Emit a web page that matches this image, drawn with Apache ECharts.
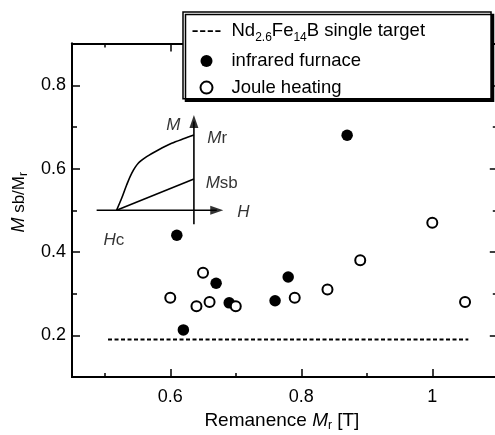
<!DOCTYPE html>
<html>
<head>
<meta charset="utf-8">
<script src="https://cdn.jsdelivr.net/npm/echarts@6/dist/echarts.min.js"></script>
<style>
html,body{margin:0;padding:0;background:#fff;}
#c{width:495px;height:435px;}
</style>
</head>
<body>
<div id="c"></div>
<script>
// ---- data ----
const seriesNames = ['Nd2.6Fe14B single target', 'infrared furnace', 'Joule heating'];
const singleTarget = [[0.505, 0.19], [1.055, 0.19]];
const infrared = [[0.61, 0.44], [0.87, 0.68], [0.67, 0.325], [0.69, 0.278], [0.76, 0.283], [0.78, 0.34], [0.62, 0.213]];
const joule = [[0.60, 0.29], [0.65, 0.35], [0.64, 0.27], [0.66, 0.28], [0.70, 0.27], [0.79, 0.29], [0.84, 0.31], [0.89, 0.38], [1.00, 0.47], [1.05, 0.28]];
const xMajor = [0.6, 0.8, 1.0];
const xMinor = [0.5, 0.7, 0.9];
const yMajor = [0.2, 0.4, 0.6, 0.8];
const yMinor = [0.3, 0.5, 0.7];
// inset schematic (in data units of the main axes)
const insetUpper = [[0.518, 0.5], [0.5258, 0.5288], [0.5334, 0.5607], [0.5411, 0.5888], [0.5511, 0.6128], [0.5640, 0.6286], [0.5817, 0.6447], [0.6021, 0.6608], [0.6224, 0.6728], [0.6361, 0.6807]];
const insetLower = [[0.518, 0.5], [0.6361, 0.575]];
const insetHAxis = [[0.4876, 0.5], [0.671, 0.5]];
const insetMAxis = [[0.6361, 0.4664], [0.6361, 0.7131]];
const insetArrows = [[0.671, 0.5, -90], [0.6361, 0.7131, 0]];
const insetLabels = [
  ['{i|M}', 0.6045, 0.7047],
  ['{i|M}{n|r}', 0.6717, 0.6728],
  ['{i|M}{n|sb}', 0.6785, 0.5648],
  ['{i|H}', 0.7115, 0.4952],
  ['{i|H}{n|c}', 0.514, 0.4287]
];

const FONT = 'Liberation Sans';
const chart = echarts.init(document.getElementById('c'));

function xAx(pos, ticks, len, labels) {
  return {
    type: 'value', position: pos, min: 0.45, max: 1.1,
    axisLine: {show: true, lineStyle: {color: '#000', width: 2}},
    axisTick: {show: true, inside: true, length: len, customValues: ticks, lineStyle: {color: '#000', width: 1.5}},
    axisLabel: labels ? {show: true, customValues: ticks, margin: 11, color: '#000', fontSize: 18, fontFamily: FONT} : {show: false},
    splitLine: {show: false}
  };
}
function yAx(pos, ticks, len, labels) {
  return {
    type: 'value', position: pos, min: 0.1, max: 0.9,
    axisLine: {show: true, lineStyle: {color: '#000', width: 2}},
    axisTick: {show: true, inside: true, length: len, customValues: ticks, lineStyle: {color: '#000', width: 1.5}},
    axisLabel: labels ? {show: true, customValues: ticks, margin: 6, color: '#000', fontSize: 18, fontFamily: FONT} : {show: false},
    splitLine: {show: false}
  };
}

const xAxes = [xAx('bottom', xMajor, 8, true), xAx('bottom', xMinor, 4, false), xAx('top', xMajor, 8, false), xAx('top', xMinor, 4, false)];
xAxes[0].name = '{n|Remanence }{i|M}{s|r}{n| [T]}';
xAxes[0].nameLocation = 'middle';
xAxes[0].nameGap = 32;
xAxes[0].nameTextStyle = {
  padding: [0, 6, 0, 0],
  rich: {
    n: {fontSize: 19, fontFamily: FONT, color: '#000', lineHeight: 22},
    i: {fontSize: 19, fontFamily: FONT, fontStyle: 'italic', color: '#000', lineHeight: 22},
    s: {fontSize: 12, fontFamily: FONT, color: '#000', lineHeight: 13, verticalAlign: 'bottom'}
  }
};
const yAxes = [yAx('left', yMajor, 8, true), yAx('left', yMinor, 5, false), yAx('right', yMajor, 8, false), yAx('right', yMinor, 5, false)];
yAxes[0].name = '{i|M}{n| sb/M}{s|r}';
yAxes[0].nameLocation = 'middle';
yAxes[0].nameRotate = 90;
yAxes[0].nameGap = 41;
yAxes[0].nameTextStyle = {
  padding: [0, 0, 0, 16],
  rich: {
    n: {fontSize: 17, fontFamily: FONT, color: '#000', lineHeight: 22},
    i: {fontSize: 18, fontFamily: FONT, fontStyle: 'italic', color: '#000', lineHeight: 22},
    s: {fontSize: 12, fontFamily: FONT, color: '#000', lineHeight: 13, verticalAlign: 'bottom'}
  }
};

const dashIcon = 'path://M0,0h5v1.8h-5z M7.33,0h5v1.8h-5z M14.67,0h5v1.8h-5z M22,0h5v1.8h-5z';

const option = {
  animation: false,
  backgroundColor: '#fff',
  grid: {left: 72, top: 43.6, width: 425.8, height: 333.4, containLabel: false, outerBoundsMode: 'none'},
  xAxis: xAxes,
  yAxis: yAxes,
  legend: {
    orient: 'vertical', left: 183, top: 12,
    padding: [9.6, 66, 1.7, 9.5],
    itemWidth: 28, itemHeight: 12, itemGap: 7.5,
    backgroundColor: '#fff', borderColor: '#000', borderWidth: 1.5,
    shadowColor: '#000', shadowBlur: 0, shadowOffsetX: 2.5, shadowOffsetY: 2.5,
    data: [
      {name: seriesNames[0], icon: dashIcon},
      {name: seriesNames[1], icon: 'circle'},
      {name: seriesNames[2], icon: 'circle'}
    ],
    formatter: function (name) {
      if (name === seriesNames[0]) return '{a|Nd}{s|2.6}{a|Fe}{s|14}{a|B single target}';
      return '{b|' + name + '}';
    },
    textStyle: {
      padding: [0, 0, 0, 6],
      rich: {
        a: {fontSize: 18.5, fontFamily: FONT, color: '#000', lineHeight: 26},
        s: {fontSize: 12, fontFamily: FONT, color: '#000', lineHeight: 15, verticalAlign: 'bottom'},
        b: {fontSize: 18.5, fontFamily: FONT, color: '#000', lineHeight: 22}
      }
    }
  },
  series: [
    {
      name: seriesNames[0], type: 'line', data: singleTarget, symbol: 'none',
      itemStyle: {color: '#000'},
      lineStyle: {color: '#000', width: 1.8, type: [4, 2.5]}, z: 3
    },
    {
      name: seriesNames[1], type: 'scatter', data: infrared, symbol: 'circle', symbolSize: 11.5,
      itemStyle: {color: '#000', opacity: 1}, z: 5
    },
    {
      name: seriesNames[2], type: 'scatter', data: joule, symbol: 'circle', symbolSize: 10,
      itemStyle: {color: '#fff', borderColor: '#000', borderWidth: 2, opacity: 1}, z: 5
    },
    {
      type: 'line', data: insetUpper, symbol: 'none', smooth: 0.3,
      lineStyle: {color: '#000', width: 1.6}, z: 3
    },
    {
      type: 'line', data: insetLower, symbol: 'none',
      lineStyle: {color: '#000', width: 1.6}, z: 3
    },
    {
      type: 'line', data: insetHAxis, symbol: 'none',
      lineStyle: {color: '#000', width: 1.6}, z: 3
    },
    {
      type: 'line', data: insetMAxis, symbol: 'none',
      lineStyle: {color: '#000', width: 1.6}, z: 3
    },
    {
      type: 'scatter', symbol: 'triangle', symbolSize: [9, 13],
      data: insetArrows.map(function (a) { return {value: [a[0], a[1]], symbolRotate: a[2]}; }),
      itemStyle: {color: '#000'}, z: 4
    },
    {
      type: 'scatter', symbolSize: 1,
      itemStyle: {color: 'rgba(0,0,0,0)'},
      data: insetLabels.map(function (l) {
        return {value: [l[1], l[2]], label: {formatter: l[0]}};
      }),
      label: {
        show: true, position: 'inside',
        rich: {
          i: {fontSize: 17, fontFamily: FONT, fontStyle: 'italic', color: '#000'},
          n: {fontSize: 17, fontFamily: FONT, color: '#000'}
        }
      },
      z: 4
    }
  ]
};
chart.setOption(option);
</script>
</body>
</html>
